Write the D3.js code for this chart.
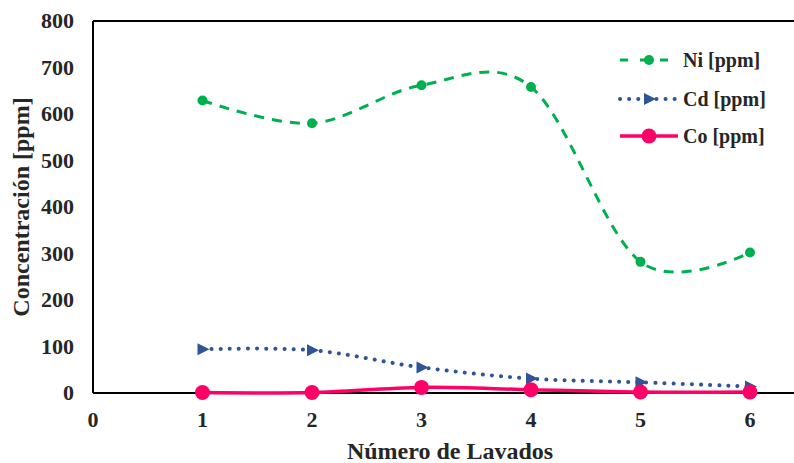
<!DOCTYPE html>
<html><head><meta charset="utf-8">
<script src="https://cdn.jsdelivr.net/npm/d3@7"></script>
<style>body{margin:0;background:#fff}svg{display:block}text{font-family:"Liberation Serif","Times New Roman",serif;font-weight:bold;fill:#262626}</style>
</head><body><svg id="c" width="794" height="463"></svg>
<script>
const lavados = [1, 2, 3, 4, 5, 6];
const ni = [629, 580, 662, 658, 282, 302];
const cd = [94, 92, 55, 31, 23, 14];
const co = [1, 1, 12, 7, 2, 2];
const xTicks = [0, 1, 2, 3, 4, 5, 6];
const yTicks = [0, 100, 200, 300, 400, 500, 600, 700, 800];

const svg = d3.select("#c");
const x = d3.scaleLinear().domain([0, 6]).range([93, 750]);
const y = d3.scaleLinear().domain([0, 800]).range([393, 21]);

// frame lines
svg.append("line").attr("x1", 93).attr("x2", 794).attr("y1", 21).attr("y2", 21).attr("stroke", "#000").attr("stroke-width", 2);
svg.append("line").attr("x1", 93).attr("x2", 93).attr("y1", 21).attr("y2", 393).attr("stroke", "#000").attr("stroke-width", 2);
svg.append("line").attr("x1", 93).attr("x2", 794).attr("y1", 393).attr("y2", 393).attr("stroke", "#000").attr("stroke-width", 2);

// tick labels
svg.append("g").selectAll("text").data(yTicks).join("text")
  .attr("x", 74).attr("y", d => y(d) + 7).attr("text-anchor", "end")
  .attr("font-size", 22).text(d => d);
svg.append("g").selectAll("text").data(xTicks).join("text")
  .attr("x", d => x(d)).attr("y", 427).attr("text-anchor", "middle")
  .attr("font-size", 22).text(d => d);

svg.append("text").attr("x", 450).attr("y", 459).attr("text-anchor", "middle").attr("font-size", 24).text("Número de Lavados");
svg.append("text").attr("transform", "translate(29,207) rotate(-90)").attr("text-anchor", "middle").attr("font-size", 24).text("Concentración [ppm]");

const smooth = d3.line().x((d, i) => x(lavados[i])).y(d => y(d)).curve(d3.curveCardinal.tension(0));

const series = [
  {name: "Ni [ppm]", vals: ni, color: "#00B050", dash: "10,8", ldash: "8,12", cap: "butt", w: 3, marker: "circle", r: 5},
  {name: "Cd [ppm]", vals: cd, color: "#2F5597", dash: "0.1,9", ldash: "0.1,9", cap: "round", w: 4, marker: "tri", r: 6},
  {name: "Co [ppm]", vals: co, color: "#FF0066", dash: null, cap: "butt", w: 3.5, marker: "circle", r: 7.5}
];

function drawMarker(g, s, cx, cy) {
  if (s.marker === "circle") {
    g.append("circle").attr("cx", cx).attr("cy", cy).attr("r", s.r).attr("fill", s.color);
  } else {
    g.append("path").attr("d", `M${cx-5},${cy-6}L${cx+7},${cy}L${cx-5},${cy+6}Z`).attr("fill", s.color);
  }
}

const legY = [60, 99, 136];
series.forEach((s, k) => {
  const p = svg.append("path").datum(s.vals).attr("d", smooth).attr("fill", "none")
    .attr("stroke", s.color).attr("stroke-width", s.w).attr("stroke-linecap", s.cap);
  if (s.dash) p.attr("stroke-dasharray", s.dash);
  const g = svg.append("g");
  s.vals.forEach((v, i) => drawMarker(g, s, x(lavados[i]), y(v)));
  // legend
  const ly = legY[k];
  const l = svg.append("line").attr("x1", 620).attr("x2", 678).attr("y1", ly).attr("y2", ly)
    .attr("stroke", s.color).attr("stroke-width", s.w).attr("stroke-linecap", s.cap);
  if (s.ldash) l.attr("stroke-dasharray", s.ldash);
  drawMarker(svg, s, 649, ly);
  svg.append("text").attr("x", 683).attr("y", ly + 7).attr("font-size", 20).text(s.name);
});
</script></body></html>
